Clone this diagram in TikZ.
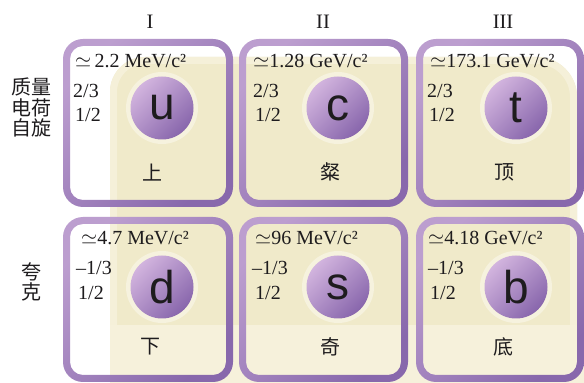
\documentclass[tikz,border=0pt]{standalone}
\usepackage{fontspec}
\setmainfont{Liberation Serif}
\setsansfont{Liberation Sans}
\newfontfamily\cjk{Noto Sans CJK SC}
\definecolor{beige}{RGB}{240,234,202}
\definecolor{cream}{RGB}{246,241,219}
\definecolor{edgecol}{RGB}{245,240,217}
\definecolor{halocol}{RGB}{246,242,222}
\definecolor{bl}{RGB}{188,158,207}
\definecolor{bd}{RGB}{136,104,172}
\definecolor{cl}{RGB}{210,180,222}
\definecolor{cd}{RGB}{136,102,172}
\definecolor{ink}{RGB}{30,28,30}
\tikzset{
  particle/.style={circle, minimum size=63pt, inner sep=0pt, top color=cl, bottom color=cd, shading angle=45, font=\sffamily\fontsize{46}{46}\selectfont, text=ink},
  val/.style={anchor=base west, font=\fontsize{20}{20}\selectfont, text=ink, inner sep=0pt},
  gen/.style={anchor=base, font=\fontsize{20.5}{20.5}\selectfont, text=ink, inner sep=0pt},
  cn/.style={font=\cjk\fontsize{20}{20}\selectfont, text=ink, inner sep=0pt},
  halo/.style={fill=halocol}
}
\newcommand\qbox[4]{%
  \shade[even odd rule, top color=bl, bottom color=bd, shading angle=45]
    [rounded corners=20pt] (#1,#2) rectangle (#3,#4)
    [rounded corners=13pt] (#1+7,#2-7) rectangle (#3-7,#4+7);}
\begin{document}
\begin{tikzpicture}[x=1pt,y=1pt]
\useasboundingbox (0,0) rectangle (584,383);
\fill[white] (0,0) rectangle (584,383);
% background
\fill[beige] (110,58) -- (110,291) arc[start angle=180,end angle=90,radius=35]
  -- (537,326) arc[start angle=90,end angle=0,radius=40] -- (577,58) -- cycle;
\draw[edgecol, line width=7pt] (113.5,58) -- (113.5,291) arc[start angle=180,end angle=90,radius=31.5]
  -- (537,322.5) arc[start angle=90,end angle=0,radius=36.5] -- (573.5,58);
\fill[cream] (110,0) rectangle (584,58);
% halos
\foreach \x/\y in {162/275,338/275,516/275,162/96,338/96,516/96}
  \fill[halo] (\x,\y) circle (36);
% boxes
\qbox{63}{344}{233}{176}
\qbox{239}{344}{408}{176}
\qbox{416}{344}{584}{176}
\qbox{63}{166}{233}{1}
\qbox{239}{166}{408}{1}
\qbox{416}{166}{584}{1}
% headers
\node[gen] (g1) at (150,354) {I};
\node[gen] (g2) at (323,354) {II};
\node[gen] (g3) at (503,354) {III};
% left labels
\node[cn] (l1) at (31,296) {质量};
\node[cn] (l2) at (31,275.5) {电荷};
\node[cn] (l3) at (31,255) {自旋};
\node[cn] (l4) at (31,111.5) {夸};
\node[cn] (l5) at (31,91) {克};
% particles
\node[particle] (u) at (162,275) {u};
\node[particle] (c) at (338,275) {c};
\node[particle] (t) at (516,275) {t};
\node[particle] (d) at (162,96) {d};
\node[particle] (s) at (338,96) {s};
\node[particle] (b) at (516,96) {b};
% values row 1
\node[val] (mu) at (75,315) {$\simeq$\,2.2 MeV/c²};
\node[val] (qu) at (73,285) {2/3};
\node[val] (su) at (75,261) {1/2};
\node[val] (mc) at (253,315) {$\simeq$1.28 GeV/c²};
\node[val] (qc) at (253,285) {2/3};
\node[val] (sc) at (255,261) {1/2};
\node[val] (mt) at (430,315) {$\simeq$173.1 GeV/c²};
\node[val] (qt) at (427,285) {2/3};
\node[val] (st) at (429,261) {1/2};
% values row 2
\node[val] (md) at (81,138) {$\simeq$4.7 MeV/c²};
\node[val] (qd) at (76,108) {–1/3};
\node[val] (sd) at (78,83) {1/2};
\node[val] (ms) at (255,138) {$\simeq$96 MeV/c²};
\node[val] (qs) at (252,108) {–1/3};
\node[val] (ss) at (255,83) {1/2};
\node[val] (mb) at (428,138) {$\simeq$4.18 GeV/c²};
\node[val] (qb) at (428,108) {–1/3};
\node[val] (sb) at (430,83) {1/2};
% names
\node[cn] (nu) at (152,210) {上};
\node[cn] (nc) at (330,211) {粲};
\node[cn] (nt) at (504,211) {顶};
\node[cn] (nd) at (150,36) {下};
\node[cn] (ns) at (330,36) {奇};
\node[cn] (nb) at (503,36) {底};
\end{tikzpicture}
\end{document}
